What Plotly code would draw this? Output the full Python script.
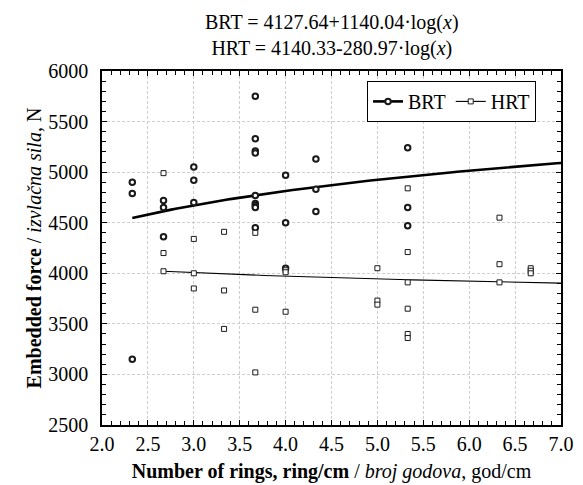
import plotly.graph_objects as go
import numpy as np

# BRT data (x: rings/cm, y: embedded force N)
brt_x = [2.33, 2.33, 2.33,
         2.67, 2.67, 2.67,
         3.0, 3.0, 3.0,
         3.67, 3.67, 3.67, 3.67, 3.67, 3.67, 3.67, 3.67, 3.67,
         4.0, 4.0, 4.0,
         4.33, 4.33, 4.33,
         5.33, 5.33, 5.33]
brt_y = [4900, 4790, 3150,
         4720, 4650, 4360,
         5050, 4920, 4700,
         5750, 5330, 5210, 5190, 4770, 4690, 4670, 4650, 4450,
         4970, 4500, 4050,
         5130, 4830, 4610,
         5240, 4650, 4470]

# HRT data
hrt_x = [2.67, 2.67, 2.67,
         3.0, 3.0, 3.0,
         3.33, 3.33, 3.33,
         3.67, 3.67, 3.67,
         4.0, 4.0, 4.0,
         5.0, 5.0, 5.0,
         5.33, 5.33, 5.33, 5.33, 5.33, 5.33,
         6.33, 6.33, 6.33,
         6.67, 6.67, 6.67]
hrt_y = [4990, 4200, 4020,
         4340, 4000, 3850,
         4410, 3830, 3450,
         4400, 3640, 3020,
         4030, 4010, 3620,
         4050, 3730, 3690,
         4840, 4210, 3910, 3650, 3400, 3360,
         4550, 4090, 3910,
         4050, 4025, 4000]

# Regression coefficients stated in the chart title: y = a + b*log10(x)
brt_a, brt_b = 4127.64, 1140.04
hrt_a, hrt_b = 4140.33, -280.97
brt_fit_range = [2.33, 7.0]
hrt_fit_range = [2.67, 7.0]

x_ticks = [2.0, 2.5, 3.0, 3.5, 4.0, 4.5, 5.0, 5.5, 6.0, 6.5, 7.0]
y_ticks = [2500, 3000, 3500, 4000, 4500, 5000, 5500, 6000]

FONT = "Liberation Serif, Times New Roman, serif"

bx = np.linspace(brt_fit_range[0], brt_fit_range[1], 100)
hx = np.linspace(hrt_fit_range[0], hrt_fit_range[1], 100)

BRT_MARKER = dict(symbol="circle", size=5.5, color="white", line=dict(color="#1a1a1a", width=2))
HRT_MARKER = dict(symbol="square", size=5, color="white", line=dict(color="#1a1a1a", width=1))

fig = go.Figure()
fig.add_trace(go.Scatter(x=bx, y=brt_a + brt_b * np.log10(bx), mode="lines",
                         line=dict(color="black", width=2.6), showlegend=False, hoverinfo="skip"))
fig.add_trace(go.Scatter(x=hx, y=hrt_a + hrt_b * np.log10(hx), mode="lines",
                         line=dict(color="black", width=1.1), showlegend=False, hoverinfo="skip"))
fig.add_trace(go.Scatter(x=brt_x, y=brt_y, mode="markers", name="BRT", showlegend=False,
                         marker=BRT_MARKER))
fig.add_trace(go.Scatter(x=hrt_x, y=hrt_y, mode="markers", name="HRT", showlegend=False,
                         marker=HRT_MARKER))
# legend entries
fig.add_trace(go.Scatter(x=[None], y=[None], mode="lines+markers", name="BRT",
                         line=dict(color="black", width=2.6), marker=BRT_MARKER))
fig.add_trace(go.Scatter(x=[None], y=[None], mode="lines+markers", name="HRT",
                         line=dict(color="black", width=1.1), marker=HRT_MARKER))

title_text = (f"BRT = {brt_a:.2f}+{brt_b:.2f}·log(<i>x</i>)<br>"
              f"HRT = {hrt_a:.2f}-{abs(hrt_b):.2f}·log(<i>x</i>)")

axis_common = dict(
    showline=True, linecolor="black", linewidth=1.5, mirror="ticks",
    ticks="inside", ticklen=5, tickwidth=1, tickcolor="black",
    showgrid=True, gridcolor="#cfcfcf", griddash="3px,2px", gridwidth=1,
    zeroline=False, automargin=False,
    tickfont=dict(family=FONT, size=20, color="black"),
)

fig.update_layout(
    width=583, height=485,
    margin=dict(l=101.5, r=22, t=71, b=60),
    paper_bgcolor="white", plot_bgcolor="white",
    font=dict(family=FONT, color="black", size=20),
    annotations=[dict(text=title_text, xref="paper", yref="paper", x=0.5, y=1.025,
                      xanchor="center", yanchor="bottom", showarrow=False,
                      font=dict(family=FONT, size=20, color="black"))],
    legend=dict(orientation="h", x=0.9456, xanchor="right", y=0.972, yanchor="top",
                bgcolor="white", bordercolor="black", borderwidth=1,
                font=dict(family=FONT, size=20, color="black"),
                itemwidth=30),
    xaxis=dict(range=[2.0, 7.0], tickvals=x_ticks,
               ticktext=[f"{v:.1f}" for v in x_ticks],
               minor=dict(dtick=0.1, ticks="inside", ticklen=4, tickcolor="black", showgrid=False),
               title=dict(text="<b>Number of rings, ring/cm</b> / <i>broj godova</i>, god/cm",
                          font=dict(family=FONT, size=20), standoff=10),
               **axis_common),
    yaxis=dict(range=[2500, 6000], tickvals=y_ticks,
               minor=dict(dtick=100, ticks="inside", ticklen=4, tickcolor="black", showgrid=False),
               title=dict(text="<b>Embedded force</b> / <i>izvlačna sila</i>, N",
                          font=dict(family=FONT, size=20), standoff=1),
               ticklabelstandoff=8,
               **axis_common),
)

fig.write_html("out.html", config={"displayModeBar": False},
               post_script="document.body.style.margin='0';")
